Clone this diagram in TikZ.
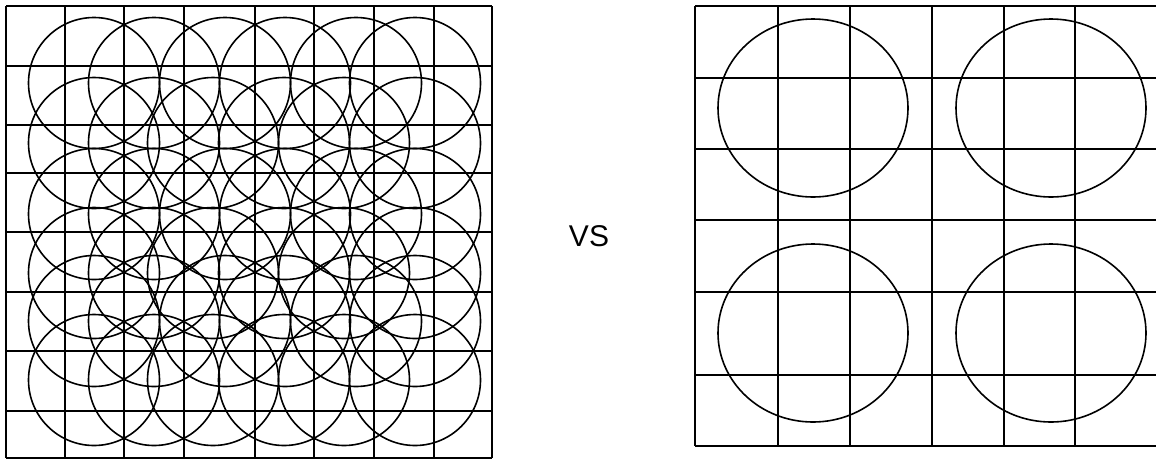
\documentclass[tikz,border=0pt]{standalone}
\usepackage{fontspec}
\setmainfont{Liberation Sans}

\begin{document}
\begin{tikzpicture}[x=1pt,y=-1pt,
  gridline/.style={line width=1.7pt},
  ring/.style={line width=1.6pt}]
  \useasboundingbox (0,0) rectangle (1156,459);

  % left: dense, overlapping circles
  \foreach \x in {6,65,124,184,255,314,374,434,492}
    \draw[gridline] (\x,6) -- (\x,458);
  \foreach \y in {6,66,125,173,232,292,351,411,458}
    \draw[gridline] (6,\y) -- (492,\y);
  \foreach \y in {83,214,321}
    \foreach \x in {94,154,225,285,356,415}
      \draw[ring] (\x,\y) circle[radius=65.5];
  \foreach \y in {143,273,380}
    \foreach \x in {94,154,213,284,344,415}
      \draw[ring] (\x,\y) circle[radius=65.5];

  \node[font=\fontsize{30}{36}\selectfont] (vs) at (589,236) {VS};

  % right: sparse circles
  \foreach \x in {695,778,850,932,1004,1075}
    \draw[gridline] (\x,6) -- (\x,446);
  \foreach \y in {6,78,149,220,292,375,446}
    \draw[gridline] (695,\y) -- (1156,\y);
  \foreach \x in {813,1051}
    \foreach \y in {108,333}
      \draw[ring] (\x,\y) ellipse[x radius=95, y radius=89];
\end{tikzpicture}
\end{document}
